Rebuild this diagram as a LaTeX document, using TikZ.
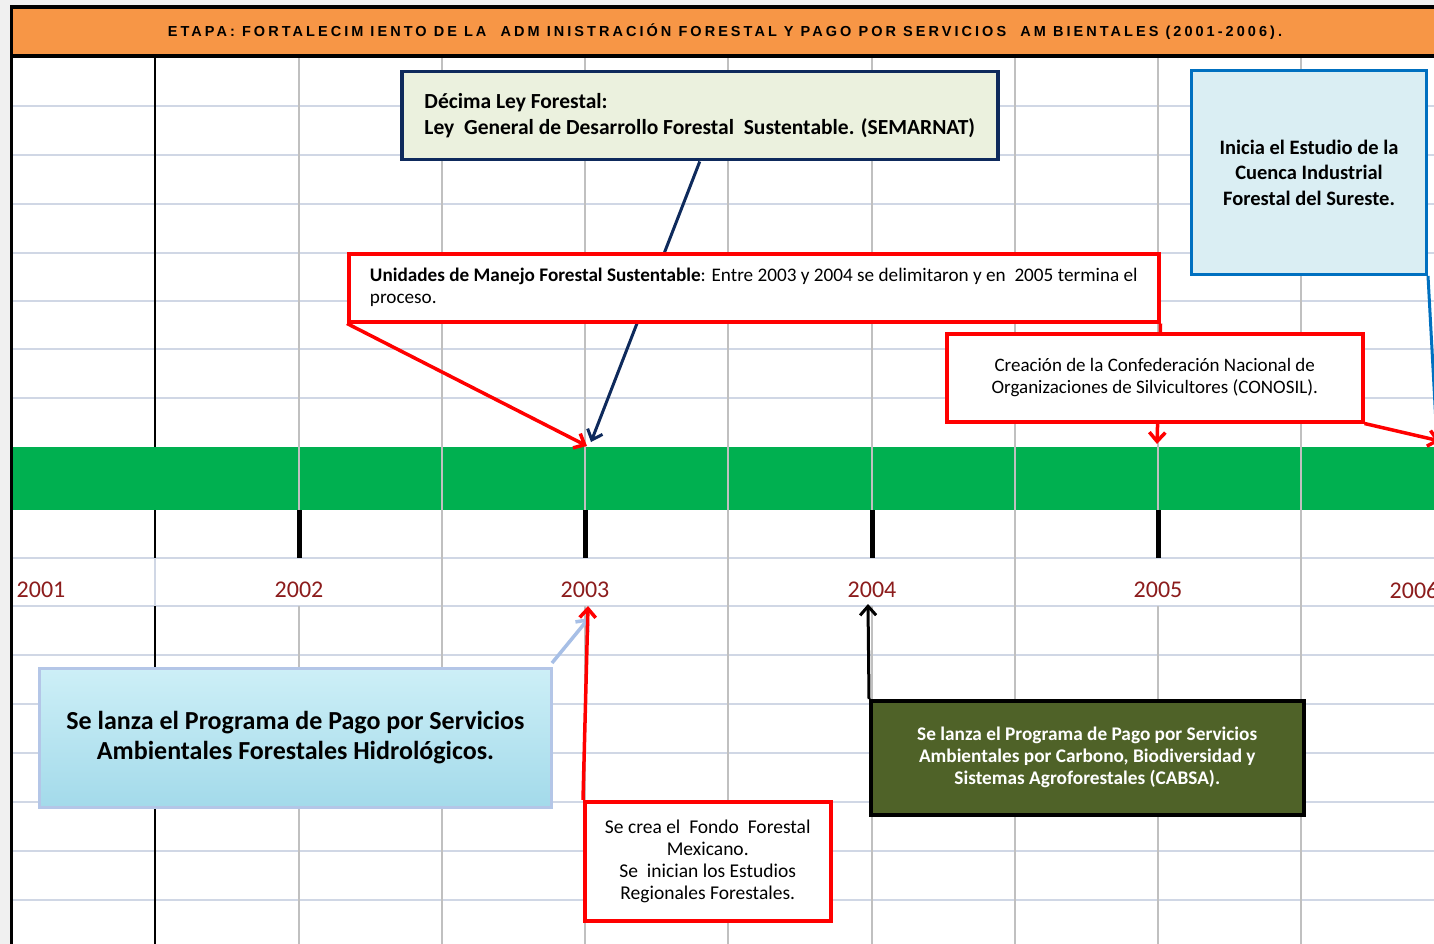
\documentclass[tikz,border=0pt]{standalone}
\usepackage{fontspec}
\setmainfont{Carlito}
\newfontfamily\headfont[LetterSpace=21]{Liberation Sans}
\usepackage{xcolor}
\usetikzlibrary{arrows.meta}

\definecolor{naranja}{HTML}{F79646}
\definecolor{verdebanda}{HTML}{00B050}
\definecolor{azulley}{HTML}{0E2A5C}
\definecolor{verdeley}{HTML}{EBF1DE}
\definecolor{rojo}{HTML}{FF0000}
\definecolor{celeste}{HTML}{DAEEF3}
\definecolor{azul}{HTML}{0070C0}
\definecolor{olivo}{HTML}{4F6228}
\definecolor{lila}{HTML}{B4C6E7}
\definecolor{flechaclara}{HTML}{A7BFE6}
\definecolor{gris}{HTML}{C0C0C0}
\definecolor{grisazul}{HTML}{D0D7E5}
\definecolor{guinda}{HTML}{8C1C1C}
\definecolor{fondogris}{HTML}{F0F0F0}
\definecolor{agua1}{HTML}{CDEFF7}
\definecolor{agua2}{HTML}{A3DAEA}

\tikzset{
caja/.style={rectangle,line width=3.5pt,inner sep=0pt,anchor=north west,align=center},
anio/.style={text=guinda,font=\fontsize{24}{26}\selectfont},
rejilla/.style={draw=gris,line width=1.5pt},
fila/.style={draw=grisazul,line width=2pt}
}

\begin{document}
\begin{tikzpicture}[x=1pt,y=-1pt,>={Straight Barb[length=9pt,width=16pt]}]
\useasboundingbox (0,0) rectangle (1434,944);
\clip (0,0) rectangle (1434,944);
\fill[fondogris](0,0) rectangle (1434,944);
\fill[white](11,7) rectangle (1434,944);
%% filas y columnas
\foreach \y in {106,155,204,253,301,349,398,558,606,655,704,753,802,851,900}
  \draw[fila](11,\y)--(1434,\y);
\fill[verdebanda](11,447) rectangle (1434,510);
\foreach \x in {442,728,1015,1301}
  \draw[rejilla](\x,57)--(\x,944);
\foreach \x in {299,585,872,1158}{
  \draw[rejilla](\x,57)--(\x,558);
  \draw[rejilla](\x,606)--(\x,944);
  \draw[line width=5pt](\x,510)--(\x,558);
}
\draw[line width=2pt](155,57)--(155,447)
  (155,510)--(155,558)
  (155,606)--(155,944);
\draw[fila](155,558)--(155,606);
%% encabezado
\fill[naranja](11,7) rectangle (1434,56);
\draw[line width=4pt](11,7)--(1434,7)
  (11,56)--(1434,56);
\draw[line width=3pt](11,5.5)--(11,944);
\node[font=\headfont\bfseries\fontsize{14.5}{16}\selectfont] (etapa) at (725,32) {ETAPA: FORTALECIM IENTO DE LA~ ADM INISTRACIÓN FORESTAL Y PAGO POR SERVICIOS~ AM BIENTALES (2001-2006).};
%% años
\node[anio] (a2001) at (41,590) {2001};
\node[anio] (a2002) at (299,590) {2002};
\node[anio] (a2003) at (585,590) {2003};
\node[anio] (a2004) at (872,590) {2004};
\node[anio] (a2005) at (1158,590) {2005};
\node[anio] (a2006) at (1414,590) {2006};
\coordinate (ley2003) at (591,442);
\coordinate (umfs2003) at (587,446);
\coordinate (umfs2005) at (1157,444);
\coordinate (cono2006) at (1440,441);
\coordinate (cuenca2006) at (1437,442);
\coordinate (hidro2003) at (589,618);
\coordinate (fondo2003) at (588,606);
\coordinate (cabsa2004) at (868,604);
%% arriba
\node[caja,draw=azulley,fill=verdeley,minimum width=596pt,minimum height=88pt,align=left,font=\bfseries\fontsize{21.5}{26}\selectfont] (ley) at (400,70) {Décima Ley Forestal:\\Ley~ General de Desarrollo Forestal~ Sustentable. (SEMARNAT)};
\draw[->,azulley,line width=3pt](ley.south)--(ley2003);
\node[caja,draw=rojo,fill=white,minimum width=810pt,minimum height=68pt,align=left,font=\fontsize{19.2}{22}\selectfont] (umfs) at (347,252) {\textbf{Unidades de Manejo Forestal Sustentable}: Entre 2003 y 2004 se delimitaron y en~ 2005 termina el\\proceso.};
\draw[->,rojo,line width=3.5pt](umfs.south west)--(umfs2003);
\draw[->,rojo,line width=3.5pt](umfs.south east)--(umfs2005);
\node[caja,draw=rojo,fill=white,minimum width=416pt,minimum height=88pt,font=\fontsize{19}{22}\selectfont] (conosil) at (945,332) {Creación de la Confederación Nacional de\\Organizaciones de Silvicultores (CONOSIL).};
\draw[->,rojo,line width=3.5pt](conosil.south east)--(cono2006);
\node[caja,draw=azul,fill=celeste,line width=3pt,minimum width=235pt,minimum height=204pt,font=\bfseries\fontsize{20.5}{25.5}\selectfont] (cuenca) at (1190,69) {Inicia el Estudio de la\\Cuenca Industrial\\Forestal del Sureste.};
\draw[azul,line width=3pt](cuenca.south east)--(cuenca2006);
%% abajo
\draw[->,flechaclara,line width=3.5pt](552,663)--(hidro2003);
\node[caja,draw=lila,line width=3pt,top color=agua1,bottom color=agua2,minimum width=512pt,minimum height=139pt,font=\bfseries\fontsize{26}{30}\selectfont,
  path picture={\foreach \bx/\by/\br in {70/690/12,120/702/9,165/685/14,215/720/10,260/695/8,310/690/13,360/710/9,410/688/11,460/700/14,515/690/10,60/770/10,105/790/8,150/775/13,205/795/9,250/780/11,300/792/10,350/775/12,400/795/8,445/780/11,500/790/13,85/735/9,190/745/7,330/740/8,480/740/10,530/760/9}
    \draw[draw=agua2!70!teal,draw opacity=.35,fill=white,fill opacity=.3,line width=1pt](\bx,\by) circle (\br);}] (hidro) at (38,667) {Se lanza el Programa de Pago por Servicios\\Ambientales Forestales Hidrológicos.};
\draw[->,rojo,line width=3.5pt](583,800)--(fondo2003);
\node[caja,draw=rojo,fill=white,minimum width=246pt,minimum height=119pt,font=\fontsize{19.5}{22}\selectfont] (fondo) at (583,800) {Se crea el~ Fondo~ Forestal\\Mexicano.\\Se~ inician los Estudios\\Regionales Forestales.};
\node[caja,draw=black,fill=olivo,text=white,minimum width=433pt,minimum height=114pt,font=\bfseries\fontsize{19.3}{22}\selectfont] (cabsa) at (869,699) {Se lanza el Programa de Pago por Servicios\\Ambientales por Carbono, Biodiversidad y\\Sistemas Agroforestales (CABSA).};
\draw[->,line width=3pt](cabsa.north west)--(cabsa2004);
\end{tikzpicture}
\end{document}
